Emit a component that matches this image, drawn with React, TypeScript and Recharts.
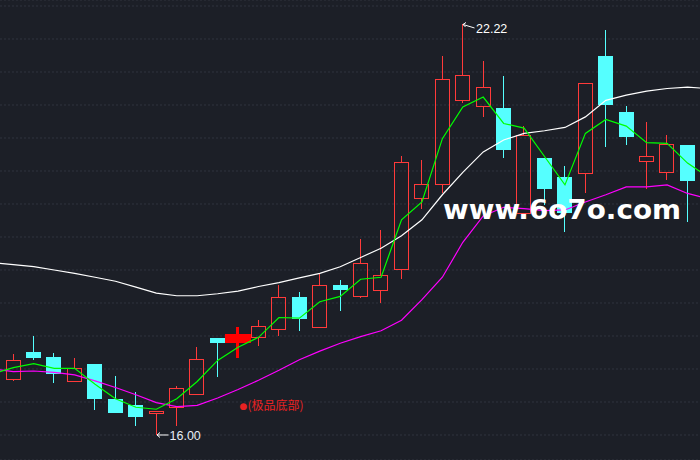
import React from 'react';
import { ComposedChart, Bar, Line, XAxis, YAxis, CartesianGrid, ReferenceDot } from 'recharts';

// ---- data ----
const dayIndex = [0, 1, 2, 3, 4, 5, 6, 7, 8, 9, 10, 11, 12, 13, 14, 15, 16, 17, 18, 19, 20, 21, 22, 23, 24, 25, 26, 27, 28, 29, 30, 31, 32, 33, 34, 35];
const openPrices = [16.71, 16.85, 17.26, 17.18, 16.82, 17.08, 16.55, 16.45, 16.34, 16.42, 16.62, 17.47, 17.40, 17.48, 17.60, 18.09, 17.64, 18.28, 18.10, 18.19, 18.51, 19.59, 19.81, 21.07, 20.98, 20.95, 19.37, 20.20, 19.91, 19.97, 21.74, 20.89, 20.15, 19.99, 20.39, null];
const closePrices = [16.77, 17.13, 17.16, 16.93, 17.01, 16.55, 16.33, 16.27, 16.37, 16.71, 17.15, 17.40, 17.53, 17.65, 18.09, 17.76, 18.27, 18.20, 18.60, 18.42, 20.13, 19.81, 21.40, 21.45, 21.28, 20.32, 20.55, 19.73, 19.36, 21.34, 21.00, 20.52, 20.23, 20.41, 19.85, null];
const highPrices = [16.82, 17.23, 17.50, 17.24, 17.17, 17.08, 16.89, 16.65, 16.37, 16.74, 17.33, 17.47, 17.64, 17.74, 18.27, 18.17, 18.46, 18.35, 18.97, 19.10, 20.23, 20.17, 21.74, 22.22, 21.67, 21.44, 20.68, 20.20, 20.08, 21.34, 22.14, 20.98, 20.74, 20.55, 20.39, null];
const lowPrices = [16.66, 16.82, 17.13, 16.79, 16.82, 16.38, 16.33, 16.13, 16.00, 16.14, 16.61, 16.88, 17.16, 17.35, 17.50, 17.58, 17.62, 17.88, 18.07, 18.00, 18.37, 19.43, 19.66, 21.03, 20.82, 20.19, 19.35, 19.48, 19.08, 19.66, 20.37, 20.39, 19.73, 19.86, 19.23, null];
const ma5 = [16.93, 17.02, 17.08, 17.01, 17.01, 16.77, 16.55, 16.42, 16.39, 16.55, 16.81, 17.13, 17.33, 17.48, 17.78, 17.77, 18.02, 18.10, 18.36, 18.39, 19.26, 19.53, 20.49, 20.97, 21.12, 20.72, 20.65, 20.22, 19.79, 20.57, 20.78, 20.68, 20.43, 20.42, 20.12, 19.91];
const ma20 = [17.00, 16.96, 16.97, 16.95, 16.91, 16.82, 16.72, 16.61, 16.49, 16.43, 16.45, 16.56, 16.69, 16.83, 16.98, 17.14, 17.27, 17.39, 17.49, 17.58, 17.74, 18.05, 18.39, 18.92, 19.32, 19.45, 19.43, 19.40, 19.41, 19.53, 19.64, 19.76, 19.76, 19.79, 19.66, 19.58];
const ma60 = [18.61, 18.58, 18.55, 18.50, 18.45, 18.39, 18.33, 18.24, 18.15, 18.11, 18.11, 18.14, 18.18, 18.25, 18.31, 18.38, 18.45, 18.55, 18.69, 18.83, 19.02, 19.26, 19.64, 19.98, 20.29, 20.47, 20.57, 20.61, 20.66, 20.82, 21.07, 21.15, 21.21, 21.25, 21.27, 21.25];
const gridTicks = [16, 16.5, 17, 17.5, 18, 18.5, 19, 19.5, 20, 20.5, 21, 21.5, 22, 22.5];
const bottomLabelText = '(极品底部)';
const bottomLabelDot = '●';
const watermarkText = 'www.6o7o.com';

// special highlighted candle and its label anchor
const HIGHLIGHT_INDEX = 12;
const BOTTOM_LABEL_PRICE = 16.45;

// ---- layout ----
const W = 700;
const H = 460;
const X_DOMAIN: [number, number] = [0.3475, 34.61];
const Y_DOMAIN: [number, number] = [15.6212, 22.5909];

const BG = '#1c1f27';
const UP = '#ff3a3a';
const DOWN = '#55ffff';

const rows = dayIndex.map((i, k) => ({
  i,
  open: openPrices[k],
  close: closePrices[k],
  high: highPrices[k],
  low: lowPrices[k],
  ma5: ma5[k],
  ma20: ma20[k],
  ma60: ma60[k],
}));

const highVals = highPrices.map((v) => (v == null ? -Infinity : v));
const lowVals = lowPrices.map((v) => (v == null ? Infinity : v));
const maxIdx = highVals.indexOf(Math.max(...highVals));
const minIdx = lowVals.indexOf(Math.min(...lowVals));

const labelFont = '"Liberation Sans", Arial, sans-serif';

function Candle(props: any) {
  const { x, y, width, height, payload } = props;
  if (!payload || payload.high == null || payload.open == null) return null;
  const { open, close, high, low, i } = payload;
  const top = Math.min(y, y + height);
  const bottom = Math.max(y, y + height);
  const span = high - low;
  const py = (v: number) => (span === 0 ? top : top + ((high - v) / span) * (bottom - top));
  const cxRaw = x + width / 2;
  const cx = Math.round(cxRaw - 0.5) + 0.5;
  const yo = py(open);
  const yc = py(close);
  const bTop = Math.min(yo, yc);
  const bBot = Math.max(yo, yc);
  const items: any[] = [];

  if (i === HIGHLIGHT_INDEX) {
    items.push(<rect key="w" x={cx - 1.5} y={top} width={3} height={bottom - top} fill="#ff0000" shapeRendering="crispEdges" />);
    items.push(<rect key="b" x={cx - 13} y={bTop} width={26.5} height={Math.max(bBot - bTop, 1)} fill="#ff0000" shapeRendering="crispEdges" />);
  } else if (close >= open) {
    const rt = Math.round(bTop) + 0.5;
    const rb = Math.max(Math.round(bBot) + 0.5, rt + 1);
    if (rt > top) items.push(<line key="wu" x1={cx} x2={cx} y1={top} y2={rt} stroke={UP} strokeWidth={1} shapeRendering="crispEdges" />);
    if (bottom > rb) items.push(<line key="wd" x1={cx} x2={cx} y1={rb} y2={bottom} stroke={UP} strokeWidth={1} shapeRendering="crispEdges" />);
    items.push(<rect key="b" x={cx - 7} y={rt} width={14} height={rb - rt} fill="none" stroke={UP} strokeWidth={1} shapeRendering="crispEdges" />);
  } else {
    items.push(<line key="w" x1={cx} x2={cx} y1={top} y2={bottom} stroke={DOWN} strokeWidth={1} shapeRendering="crispEdges" />);
    items.push(<rect key="b" x={cx - 7.5} y={bTop} width={15} height={Math.max(bBot - bTop, 1)} fill={DOWN} shapeRendering="crispEdges" />);
  }

  if (i === maxIdx) {
    items.push(
      <g key="hi">
        <path d={`M${cx + 0.5},${top} L${cx + 12},${top + 3.5} M${cx + 0.5},${top} L${cx + 3.5},${top - 2} M${cx + 0.5},${top} L${cx + 3},${top + 2.5}`} stroke="#ffffff" strokeWidth={1} fill="none" />
        <text x={cx + 13.5} y={top + 8.8} fill="#ffffff" fontSize={12.5} fontFamily={labelFont}>{high.toFixed(2)}</text>
      </g>
    );
  }
  if (i === minIdx) {
    items.push(
      <g key="lo">
        <path d={`M${cx + 0.5},${bottom} L${cx + 12},${bottom} M${cx + 0.5},${bottom} L${cx + 3.5},${bottom - 2.5} M${cx + 0.5},${bottom} L${cx + 3.5},${bottom + 2.5}`} stroke="#ffffff" strokeWidth={1} fill="none" />
        <text x={cx + 13} y={bottom + 4.6} fill="#e8eef5" fontSize={12.5} fontFamily={labelFont}>{low.toFixed(2)}</text>
      </g>
    );
  }
  return <g>{items}</g>;
}

function BottomLabel(props: any) {
  const { cx, cy } = props;
  if (cx == null || cy == null) return null;
  return (
    <text x={cx + 1.5} y={cy + 4.3} fill="#e82222" fontSize={12} fontFamily='"Noto Sans CJK SC", sans-serif'>
      <tspan fontFamily='"DejaVu Sans", sans-serif' fontSize={9} dy={-0.5}>{bottomLabelDot}</tspan>
      <tspan dy={0.5}>{bottomLabelText}</tspan>
    </text>
  );
}

export default function App() {
  return (
    <div style={{ position: 'fixed', left: 0, top: 0, width: W, height: H, background: BG, overflow: 'hidden' }}>
      <ComposedChart width={W} height={H} data={rows} margin={{ top: 0, right: 0, bottom: 0, left: 0 }}>
        <CartesianGrid vertical={false} stroke="#30343e" strokeDasharray="2 2" />
        <XAxis dataKey="i" type="number" domain={X_DOMAIN} allowDataOverflow hide />
        <YAxis type="number" domain={Y_DOMAIN} ticks={gridTicks} allowDataOverflow hide />
        <Bar
          dataKey={(d: any) => (d.low == null ? null : [d.low, d.high])}
          barSize={14}
          shape={(p: any) => <Candle {...p} />}
          isAnimationActive={false}
        />
        <Line dataKey="ma60" stroke="#ffffff" strokeWidth={1.2} dot={false} activeDot={false} isAnimationActive={false} />
        <Line dataKey="ma20" stroke="#ff00ff" strokeWidth={1.2} dot={false} activeDot={false} isAnimationActive={false} />
        <Line dataKey="ma5" stroke="#00ff00" strokeWidth={1.2} dot={false} activeDot={false} isAnimationActive={false} />
        <ReferenceDot x={HIGHLIGHT_INDEX} y={BOTTOM_LABEL_PRICE} r={0} shape={(p: any) => <BottomLabel {...p} />} />
      </ComposedChart>
      <svg width={W} height={H} style={{ position: 'absolute', left: 0, top: 0, pointerEvents: 'none' }}>
        <text x={443} y={218.5} fill="#ffffff" fontSize={27} fontWeight="bold" fontFamily='"DejaVu Sans", sans-serif' textLength={238} lengthAdjust="spacingAndGlyphs">
          {watermarkText}
        </text>
      </svg>
    </div>
  );
}
